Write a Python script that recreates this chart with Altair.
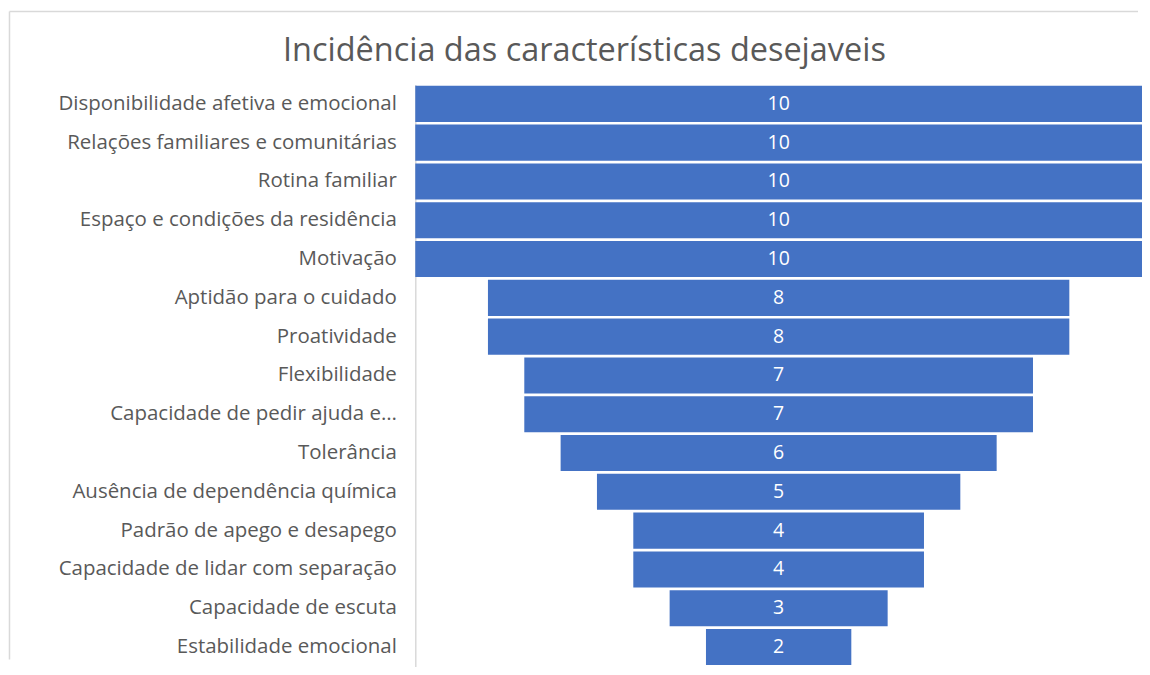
import altair as alt
import pandas as pd

categories = [
    "Disponibilidade afetiva e emocional",
    "Relações familiares e comunitárias",
    "Rotina familiar",
    "Espaço e condições da residência",
    "Motivação",
    "Aptidão para o cuidado",
    "Proatividade",
    "Flexibilidade",
    "Capacidade de pedir ajuda e…",
    "Tolerância",
    "Ausência de dependência química",
    "Padrão de apego e desapego",
    "Capacidade de lidar com separação",
    "Capacidade de escuta",
    "Estabilidade emocional",
]
values = [10, 10, 10, 10, 10, 8, 8, 7, 7, 6, 5, 4, 4, 3, 2]
title_text = "Incidência das características desejaveis"

df = pd.DataFrame({"cat": categories, "v": values})

W = 728
H = 583
LEFT = 408
TOP = 76
FONT = "Open Sans"
GREY = "#595959"

yenc = alt.Y(
    "cat:N",
    sort=categories,
    scale=alt.Scale(paddingInner=0.07, paddingOuter=0.035),
    axis=alt.Axis(
        title=None,
        ticks=False,
        labelFont=FONT,
        labelFontSize=20.5,
        labelColor=GREY,
        labelPadding=19,
        labelLimit=400,
        domainColor="#d9d9d9",
        domainWidth=1.5,
        grid=False,
    ),
)

base = alt.Chart(df).transform_calculate(lo="-datum.v/2", hi="datum.v/2", mid="0")

bars = base.mark_bar(color="#4472C4").encode(
    x=alt.X("lo:Q", scale=alt.Scale(domain=[-5, 5], nice=False, zero=False), axis=None),
    x2="hi:Q",
    y=yenc,
)

labels = base.mark_text(color="white", font=FONT, fontSize=19.5, baseline="middle", align="center").encode(
    x=alt.X("mid:Q", scale=alt.Scale(domain=[-5, 5], nice=False, zero=False), axis=None),
    y=alt.Y("cat:N", sort=categories),
    text="v:Q",
)

title = alt.Chart(pd.DataFrame({"t": [title_text]})).mark_text(
    font=FONT, fontSize=32.5, color=GREY, align="center", baseline="alphabetic"
).encode(x=alt.value(585.5 - 416), y=alt.value(61 - 84), text="t:N")

frame_top = alt.Chart(pd.DataFrame({"a": [0]})).mark_rule(
    color="#d9d9d9", strokeWidth=1.5, clip=False
).encode(x=alt.value(9.5 - 416), x2=alt.value(1140 - 416), y=alt.value(11 - 84))

frame_left = alt.Chart(pd.DataFrame({"a": [0]})).mark_rule(
    color="#d9d9d9", strokeWidth=1.5, clip=False
).encode(x=alt.value(9.5 - 416), y=alt.value(11 - 84), y2=alt.value(660 - 84))

chart = alt.layer(frame_top, frame_left, bars, labels, title).properties(
    width=W,
    height=H,
    autosize=alt.AutoSizeParams(type="none"),
    padding={"left": LEFT, "top": TOP, "right": 0, "bottom": 0},
).configure(background="white").configure_view(stroke="transparent", strokeWidth=0)

chart.save("out.html", embed_options={"renderer": "svg", "actions": False})
